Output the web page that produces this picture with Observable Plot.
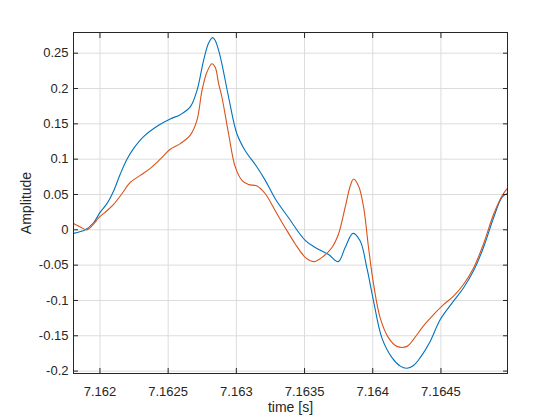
<!DOCTYPE html>
<html>
<head>
<meta charset="utf-8">
<script src="https://cdn.jsdelivr.net/npm/d3@7"></script>
<script src="https://cdn.jsdelivr.net/npm/@observablehq/plot@0.6"></script>
<style>
  html, body { margin: 0; padding: 0; background: #fff; }
  svg { display: block; }
</style>
</head>
<body>
<div id="chart"></div>
<script>
const blueTime = [7.161806, 7.161892, 7.161953, 7.162002, 7.162051, 7.162100, 7.162149, 7.162198, 7.162246, 7.162320, 7.162430, 7.162515, 7.162589, 7.162662, 7.162711, 7.162760, 7.162796, 7.162826, 7.162845, 7.162870, 7.162894, 7.162943, 7.163004, 7.163065, 7.163151, 7.163212, 7.163285, 7.163383, 7.163505, 7.163578, 7.163676, 7.163747, 7.163798, 7.163855, 7.163908, 7.163957, 7.164006, 7.164067, 7.164141, 7.164202, 7.164251, 7.164299, 7.164348, 7.164421, 7.164495, 7.164592, 7.164666, 7.164739, 7.164812, 7.164886, 7.164947, 7.164984];
const blueAmp = [-0.005, 0.000, 0.010, 0.025, 0.037, 0.055, 0.079, 0.100, 0.115, 0.132, 0.148, 0.157, 0.163, 0.174, 0.197, 0.240, 0.264, 0.272, 0.268, 0.254, 0.235, 0.188, 0.136, 0.112, 0.089, 0.070, 0.044, 0.017, -0.015, -0.025, -0.035, -0.045, -0.025, -0.005, -0.016, -0.054, -0.101, -0.153, -0.181, -0.193, -0.196, -0.192, -0.181, -0.158, -0.127, -0.101, -0.082, -0.058, -0.025, 0.017, 0.046, 0.051];

const redTime = [7.161806, 7.161856, 7.161905, 7.161953, 7.161990, 7.162051, 7.162100, 7.162161, 7.162222, 7.162295, 7.162369, 7.162442, 7.162515, 7.162589, 7.162662, 7.162711, 7.162748, 7.162784, 7.162821, 7.162845, 7.162870, 7.162894, 7.162943, 7.162992, 7.163041, 7.163089, 7.163151, 7.163212, 7.163285, 7.163358, 7.163432, 7.163505, 7.163566, 7.163628, 7.163701, 7.163749, 7.163798, 7.163835, 7.163859, 7.163896, 7.163933, 7.163969, 7.164006, 7.164055, 7.164116, 7.164177, 7.164251, 7.164299, 7.164372, 7.164446, 7.164519, 7.164592, 7.164666, 7.164739, 7.164812, 7.164886, 7.164947, 7.164984];
const redAmp = [0.009, 0.004, 0.000, 0.008, 0.017, 0.027, 0.036, 0.051, 0.067, 0.077, 0.087, 0.100, 0.114, 0.122, 0.134, 0.155, 0.197, 0.223, 0.235, 0.230, 0.207, 0.188, 0.136, 0.089, 0.070, 0.064, 0.062, 0.051, 0.027, 0.003, -0.020, -0.039, -0.045, -0.039, -0.025, -0.006, 0.032, 0.062, 0.072, 0.062, 0.032, -0.025, -0.077, -0.125, -0.153, -0.165, -0.165, -0.155, -0.136, -0.120, -0.106, -0.094, -0.077, -0.054, -0.020, 0.022, 0.048, 0.058];

const xTicks = [7.162, 7.1625, 7.163, 7.1635, 7.164, 7.1645];
const xTickLabels = ["7.162", "7.1625", "7.163", "7.1635", "7.164", "7.1645"];
const yTicks = [-0.2, -0.15, -0.1, -0.05, 0, 0.05, 0.1, 0.15, 0.2, 0.25];
const yTickLabels = ["-0.2", "-0.15", "-0.1", "-0.05", "0", "0.05", "0.1", "0.15", "0.2", "0.25"];
const xLabel = "time [s]";
const yLabel = "Amplitude";

const blue = blueTime.map((t, i) => ({t, a: blueAmp[i]}));
const red = redTime.map((t, i) => ({t, a: redAmp[i]}));

const axisColor = "#262626";
const gridColor = "#dcdcdc";

const chart = Plot.plot({
  width: 560,
  height: 420,
  marginLeft: 73,
  marginRight: 53,
  marginTop: 32,
  marginBottom: 47,
  style: {fontFamily: "'Liberation Sans', Arial, sans-serif", fontSize: "13px", color: axisColor, background: "#fff"},
  x: {domain: [7.161806, 7.164988]},
  y: {domain: [-0.2034, 0.2793]},
  marks: [
    Plot.gridX(xTicks, {stroke: gridColor, strokeOpacity: 1}),
    Plot.gridY(yTicks, {stroke: gridColor, strokeOpacity: 1}),
    Plot.line(blue, {x: "t", y: "a", stroke: "#0072BD", strokeWidth: 1.1, curve: "catmull-rom"}),
    Plot.line(red, {x: "t", y: "a", stroke: "#D95319", strokeWidth: 1.1, curve: "catmull-rom"}),
    Plot.axisX(xTicks, {anchor: "bottom", tickSize: 0, tickPadding: 13, tickFormat: (d, i) => xTickLabels[i], fill: axisColor, fontSize: 13, label: null}),
    Plot.axisY(yTicks, {anchor: "left", tickSize: 0, tickPadding: 5, tickFormat: (d, i) => yTickLabels[i], fill: axisColor, fontSize: 13, label: null}),
    Plot.axisX(xTicks, {anchor: "bottom", tickSize: -5, fill: "none", stroke: axisColor, label: null}),
    Plot.axisX(xTicks, {anchor: "top", tickSize: -5, fill: "none", stroke: axisColor, label: null}),
    Plot.axisY(yTicks, {anchor: "left", tickSize: -5, fill: "none", stroke: axisColor, label: null}),
    Plot.axisY(yTicks, {anchor: "right", tickSize: -5, fill: "none", stroke: axisColor, label: null}),
    Plot.frame({stroke: axisColor, strokeWidth: 1}),
    Plot.text([xLabel], {text: d => d, frameAnchor: "bottom", textAnchor: "middle", lineAnchor: "middle", dy: 34, fontSize: 14, fill: axisColor}),
    Plot.text([yLabel], {text: d => d, frameAnchor: "left", textAnchor: "middle", lineAnchor: "middle", dx: -47, rotate: -90, fontSize: 14, fill: axisColor})
  ]
});
document.getElementById("chart").appendChild(chart);
</script>
</body>
</html>
